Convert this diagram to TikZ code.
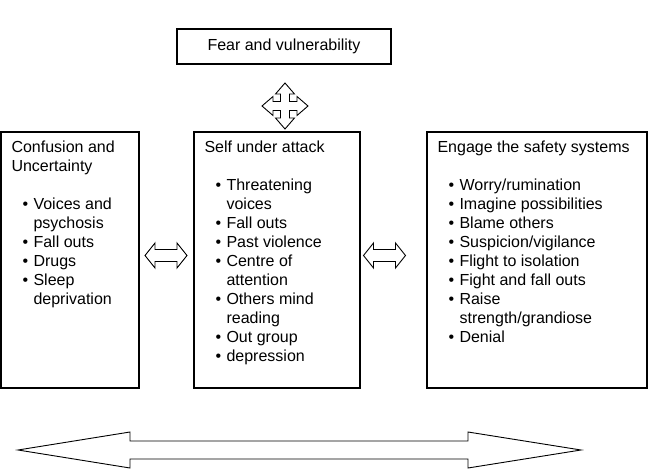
\documentclass[tikz,border=0pt]{standalone}
\usepackage{fontspec}
\setmainfont{Liberation Sans}
\usetikzlibrary{positioning}

\tikzset{
	panel/.style={draw, line width=1.3pt, inner sep=0pt},
	paneltext/.style={anchor=north west, align=left, inner sep=0pt, font=\fontsize{16}{19}\selectfont},
	blockarrow/.style={draw, line width=0.9pt, fill=white, line join=miter},
}
\newcommand\bul{\hspace*{11pt}\makebox[11pt][l]{\textbullet}}
\newcommand\ind{\hspace*{22pt}}

\begin{document}
\begin{tikzpicture}[x=1pt, y=-1pt]
	\useasboundingbox (0,0) rectangle (648,470);
	% boxes
	\node[panel, minimum width=214, minimum height=35, font=\fontsize{16}{19}\selectfont] (fear) at (284,46.5) {Fear and vulnerability};
	\node[panel, minimum width=138, minimum height=256] (confusion) at (70,260) {};
	\node[panel, minimum width=166, minimum height=256] (self) at (277,260) {};
	\node[panel, minimum width=220, minimum height=256] (safety) at (537,260) {};
	% box texts
	\node[paneltext] (confusiontxt) at ([shift={(11,9.5)}]confusion.north west) {Confusion and\\Uncertainty\\[19pt]
		\bul Voices and\\\ind psychosis\\\bul Fall outs\\\bul Drugs\\\bul Sleep\\\ind deprivation};
	\node[paneltext] (selftxt) at ([shift={(11,9.5)}]self.north west) {Self under attack\\[19pt]
		\bul Threatening\\\ind voices\\\bul Fall outs\\\bul Past violence\\\bul Centre of\\\ind attention\\
		\bul Others mind\\\ind reading\\\bul Out group\\\bul depression};
	\node[paneltext] (safetytxt) at ([shift={(11,9.5)}]safety.north west) {Engage the safety systems\\[19pt]
		\bul Worry/rumination\\\bul Imagine possibilities\\\bul Blame others\\\bul Suspicion/vigilance\\
		\bul Flight to isolation\\\bul Fight and fall outs\\\bul Raise\\\ind strength/grandiose\\\bul Denial};
	% four-way arrow under fear
	\coordinate (cross) at (285,106);
	\draw[blockarrow, shift={(cross)}] (23,0) -- (12,9.5) -- (12,4.5) -- (4.5,4.5) -- (4.5,12) -- (9.5,12) -- (0,23)
		-- (-9.5,12) -- (-4.5,12) -- (-4.5,4.5) -- (-12,4.5) -- (-12,9.5) -- (-23,0) -- (-12,-9.5) -- (-12,-4.5)
		-- (-4.5,-4.5) -- (-4.5,-12) -- (-9.5,-12) -- (0,-23) -- (9.5,-12) -- (4.5,-12) -- (4.5,-4.5) -- (12,-4.5) -- (12,-9.5) -- cycle;
	% double arrows between boxes
	\coordinate (leftlink) at (166,255.5);
	\coordinate (rightlink) at (384.5,255.5);
	\draw[blockarrow, shift={(leftlink)}] (21,0) -- (11,-12.5) -- (11,-6) -- (-11,-6) -- (-11,-12.5) -- (-21,0)
		-- (-11,12.5) -- (-11,6) -- (11,6) -- (11,12.5) -- cycle;
	\draw[blockarrow, shift={(rightlink)}] (21,0) -- (11,-12.5) -- (11,-6) -- (-11,-6) -- (-11,-12.5) -- (-21,0)
		-- (-11,12.5) -- (-11,6) -- (11,6) -- (11,12.5) -- cycle;
	% long arrow at the bottom
	\coordinate (span) at (299.5,450);
	\draw[blockarrow, shift={(span)}] (281.5,0) -- (168.5,-18) -- (168.5,-9) -- (-169.5,-9) -- (-169.5,-18) -- (-281.5,0)
		-- (-169.5,18) -- (-169.5,9) -- (168.5,9) -- (168.5,18) -- cycle;
\end{tikzpicture}
\end{document}
